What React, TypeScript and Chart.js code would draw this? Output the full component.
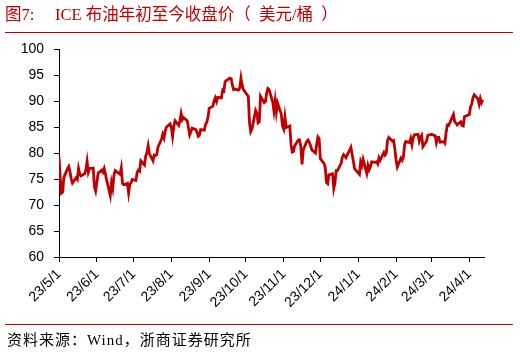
import React, { useEffect, useRef } from "react";
import { Chart, registerables } from "chart.js";

Chart.register(...registerables);

// Trading dates (ICE Brent) and closing prices, USD/bbl
const DATES: string[] = [
  "2023-05-01","2023-05-02","2023-05-03","2023-05-04","2023-05-05","2023-05-08","2023-05-09","2023-05-10","2023-05-11","2023-05-12","2023-05-15","2023-05-16","2023-05-17","2023-05-18","2023-05-19","2023-05-22","2023-05-23","2023-05-24","2023-05-25","2023-05-26","2023-05-29","2023-05-30","2023-05-31",
  "2023-06-01","2023-06-02","2023-06-05","2023-06-06","2023-06-07","2023-06-08","2023-06-09","2023-06-12","2023-06-13","2023-06-14","2023-06-15","2023-06-16","2023-06-19","2023-06-20","2023-06-21","2023-06-22","2023-06-23","2023-06-26","2023-06-27","2023-06-28","2023-06-29","2023-06-30",
  "2023-07-03","2023-07-04","2023-07-05","2023-07-06","2023-07-07","2023-07-10","2023-07-11","2023-07-12","2023-07-13","2023-07-14","2023-07-17","2023-07-18","2023-07-19","2023-07-20","2023-07-21","2023-07-24","2023-07-25","2023-07-26","2023-07-27","2023-07-28","2023-07-31",
  "2023-08-01","2023-08-02","2023-08-03","2023-08-04","2023-08-07","2023-08-08","2023-08-09","2023-08-10","2023-08-11","2023-08-14","2023-08-15","2023-08-16","2023-08-17","2023-08-18","2023-08-21","2023-08-22","2023-08-23","2023-08-24","2023-08-25","2023-08-28","2023-08-29","2023-08-30","2023-08-31",
  "2023-09-01","2023-09-04","2023-09-05","2023-09-06","2023-09-07","2023-09-08","2023-09-11","2023-09-12","2023-09-13","2023-09-14","2023-09-15","2023-09-18","2023-09-19","2023-09-20","2023-09-21","2023-09-22","2023-09-25","2023-09-26","2023-09-27","2023-09-28","2023-09-29",
  "2023-10-02","2023-10-03","2023-10-04","2023-10-05","2023-10-06","2023-10-09","2023-10-10","2023-10-11","2023-10-12","2023-10-13","2023-10-16","2023-10-17","2023-10-18","2023-10-19","2023-10-20","2023-10-23","2023-10-24","2023-10-25","2023-10-26","2023-10-27","2023-10-30","2023-10-31",
  "2023-11-01","2023-11-02","2023-11-03","2023-11-06","2023-11-07","2023-11-08","2023-11-09","2023-11-10","2023-11-13","2023-11-14","2023-11-15","2023-11-16","2023-11-17","2023-11-20","2023-11-21","2023-11-22","2023-11-23","2023-11-24","2023-11-27","2023-11-28","2023-11-29","2023-11-30",
  "2023-12-01","2023-12-04","2023-12-05","2023-12-06","2023-12-07","2023-12-08","2023-12-11","2023-12-12","2023-12-13","2023-12-14","2023-12-15","2023-12-18","2023-12-19","2023-12-20","2023-12-21","2023-12-22","2023-12-26","2023-12-27","2023-12-28","2023-12-29",
  "2024-01-02","2024-01-03","2024-01-04","2024-01-05","2024-01-08","2024-01-09","2024-01-10","2024-01-11","2024-01-12","2024-01-15","2024-01-16","2024-01-17","2024-01-18","2024-01-19","2024-01-22","2024-01-23","2024-01-24","2024-01-25","2024-01-26","2024-01-29","2024-01-30","2024-01-31",
  "2024-02-01","2024-02-02","2024-02-05","2024-02-06","2024-02-07","2024-02-08","2024-02-09","2024-02-12","2024-02-13","2024-02-14","2024-02-15","2024-02-16","2024-02-19","2024-02-20","2024-02-21","2024-02-22","2024-02-23","2024-02-26","2024-02-27","2024-02-28","2024-02-29",
  "2024-03-01","2024-03-04","2024-03-05","2024-03-06","2024-03-07","2024-03-08","2024-03-11","2024-03-12","2024-03-13","2024-03-14","2024-03-15","2024-03-18","2024-03-19","2024-03-20","2024-03-21","2024-03-22","2024-03-25","2024-03-26","2024-03-27","2024-03-28",
  "2024-04-01","2024-04-02","2024-04-03","2024-04-04","2024-04-05","2024-04-08","2024-04-09","2024-04-10","2024-04-11","2024-04-12",
];

const CLOSE: number[] = [
  79.3,75.3,72.3,72.5,75.3,77.0,77.4,76.4,75.0,74.2,75.2,74.9,77.0,75.9,75.6,76.0,76.8,78.4,76.3,77.0,77.1,73.5,72.7,
  74.3,76.1,76.7,76.3,77.0,76.0,74.8,71.8,74.3,73.2,75.7,76.6,76.1,75.9,77.1,74.1,73.9,74.2,72.3,74.0,74.3,74.9,
  74.7,76.3,76.7,76.5,78.5,77.7,79.4,80.1,81.4,79.9,78.5,79.6,79.5,79.6,81.1,82.7,83.6,82.9,84.2,85.0,85.6,
  84.9,83.2,85.1,86.2,85.3,86.2,87.6,86.4,86.8,86.2,84.9,83.5,84.1,84.8,84.5,84.0,83.2,83.4,84.5,84.4,85.5,85.9,86.9,
  88.6,89.0,90.0,90.6,89.9,90.7,90.6,92.1,91.9,93.7,93.9,94.4,94.3,93.0,92.2,92.3,92.1,92.5,94.4,93.0,92.2,
  91.2,90.9,85.8,84.1,84.6,88.2,87.7,85.8,86.0,90.9,89.7,89.9,91.5,92.4,92.2,89.8,88.1,90.1,87.9,89.6,87.5,85.2,
  84.6,86.9,84.9,85.2,81.6,80.2,80.3,81.4,82.5,82.5,81.2,77.8,80.6,82.3,82.5,82.0,81.4,80.6,80.0,81.7,83.1,82.8,
  78.9,78.0,77.2,74.3,74.1,75.8,76.0,73.2,74.3,76.6,76.6,78.0,79.2,79.7,79.4,79.1,81.1,79.7,78.4,77.0,
  75.9,78.3,77.6,78.8,76.1,77.6,76.8,77.4,78.3,78.2,78.3,77.9,79.1,78.6,80.1,79.6,80.0,82.4,83.0,82.3,82.4,80.8,
  78.7,77.3,79.0,78.6,79.2,81.6,82.2,82.0,82.8,81.6,82.9,83.5,83.6,82.3,83.0,83.4,81.2,82.3,83.4,83.5,83.5,
  83.6,83.3,82.0,83.0,83.0,82.1,82.2,81.9,84.0,85.4,85.3,86.9,87.4,86.0,85.8,85.4,86.0,85.3,85.2,87.0,
  87.4,88.9,89.4,90.7,91.2,90.4,89.4,90.5,89.7,90.2,
];

const TICK_DATES: string[] = [
  "2023-05-01","2023-06-01","2023-07-01","2023-08-01","2023-09-01","2023-10-01",
  "2023-11-01","2023-12-01","2024-01-01","2024-02-01","2024-03-01","2024-04-01",
];
const TICK_LABELS: string[] = [
  "23/5/1","23/6/1","23/7/1","23/8/1","23/9/1","23/10/1",
  "23/11/1","23/12/1","24/1/1","24/2/1","24/3/1","24/4/1",
];
const AXIS_START = "2023-05-01";
const AXIS_END = "2024-04-13";
const Y_MIN = 60;
const Y_MAX = 100;
const Y_STEP = 5;

const TITLE_NO = "图7:";
const TITLE = "ICE 布油年初至今收盘价（\u2002美元/桶\u2002）";
const SOURCE = "资料来源：Wind，浙商证券研究所";

const RED = "#C00000";
const START_MS = Date.UTC(2023, 4, 1);
function dayIndex(s: string): number {
  const [y, m, d] = s.split("-").map(Number);
  return Math.round((Date.UTC(y, m - 1, d) - START_MS) / 86400000);
}

export default function App() {
  const ref = useRef<HTMLCanvasElement>(null);
  useEffect(() => {
    if (!ref.current) return;
    const points = DATES.map((d, i) => ({ x: dayIndex(d), y: CLOSE[i] }));
    const tickDays = TICK_DATES.map(dayIndex);
    const tickFont = { family: "'Liberation Sans', Arial, sans-serif", size: 14 };
    const chart = new Chart(ref.current, {
      type: "line",
      data: {
        datasets: [
          {
            data: points,
            borderColor: RED,
            backgroundColor: RED,
            borderWidth: 2.8,
            pointRadius: 0,
            tension: 0,
            fill: false,
          },
        ],
      },
      options: {
        responsive: false,
        animation: false,
        events: [],
        layout: { padding: { left: 0, right: 36, top: 49, bottom: 36 } },
        plugins: { legend: { display: false }, tooltip: { enabled: false } },
        scales: {
          x: {
            type: "linear",
            min: dayIndex(AXIS_START),
            max: dayIndex(AXIS_END),
            afterBuildTicks: (s: any) => {
              s.ticks = tickDays.map((v) => ({ value: v }));
            },
            afterFit: (s: any) => {
              s.height = 60;
            },
            grid: { drawOnChartArea: false, drawTicks: true, tickLength: 5, color: "#000", lineWidth: 1 },
            border: { display: true, color: "#000", width: 1 },
            ticks: {
              autoSkip: false,
              minRotation: 45,
              maxRotation: 45,
              padding: 4,
              color: "#000",
              font: tickFont,
              callback: (_v: any, i: number) => TICK_LABELS[i],
            },
          },
          y: {
            min: Y_MIN,
            max: Y_MAX,
            afterFit: (s: any) => {
              s.width = 59;
            },
            grid: { drawOnChartArea: false, drawTicks: true, tickLength: 5, color: "#000", lineWidth: 1 },
            border: { display: true, color: "#000", width: 1 },
            ticks: { stepSize: Y_STEP, padding: 10, color: "#000", font: tickFont },
          },
        },
      },
    });
    return () => chart.destroy();
  }, []);

  const serif = "'Liberation Serif', 'Times New Roman', 'Noto Sans CJK SC', serif";
  return (
    <div style={{ position: "absolute", left: 0, top: 0, width: 520, height: 353, background: "#fff", overflow: "hidden" }}>
      <canvas ref={ref} width={520} height={353} style={{ position: "absolute", left: 0, top: 0, width: 520, height: 353 }} />
      <div style={{ position: "absolute", left: 5, top: 5, fontFamily: serif, fontSize: 16.5, lineHeight: "20px", color: RED, whiteSpace: "nowrap" }}>{TITLE_NO}</div>
      <div style={{ position: "absolute", left: 55, top: 5, fontFamily: serif, fontSize: 16.5, lineHeight: "20px", color: RED, whiteSpace: "pre" }}>{TITLE}</div>
      <div style={{ position: "absolute", left: 5, top: 32, width: 508, height: 1, background: RED }} />
      <div style={{ position: "absolute", left: 5, top: 324, width: 508, height: 1, background: RED }} />
      <div style={{ position: "absolute", left: 7, top: 330, fontFamily: serif, fontSize: 15, letterSpacing: 1, lineHeight: "20px", color: "#000", whiteSpace: "nowrap" }}>{SOURCE}</div>
    </div>
  );
}
